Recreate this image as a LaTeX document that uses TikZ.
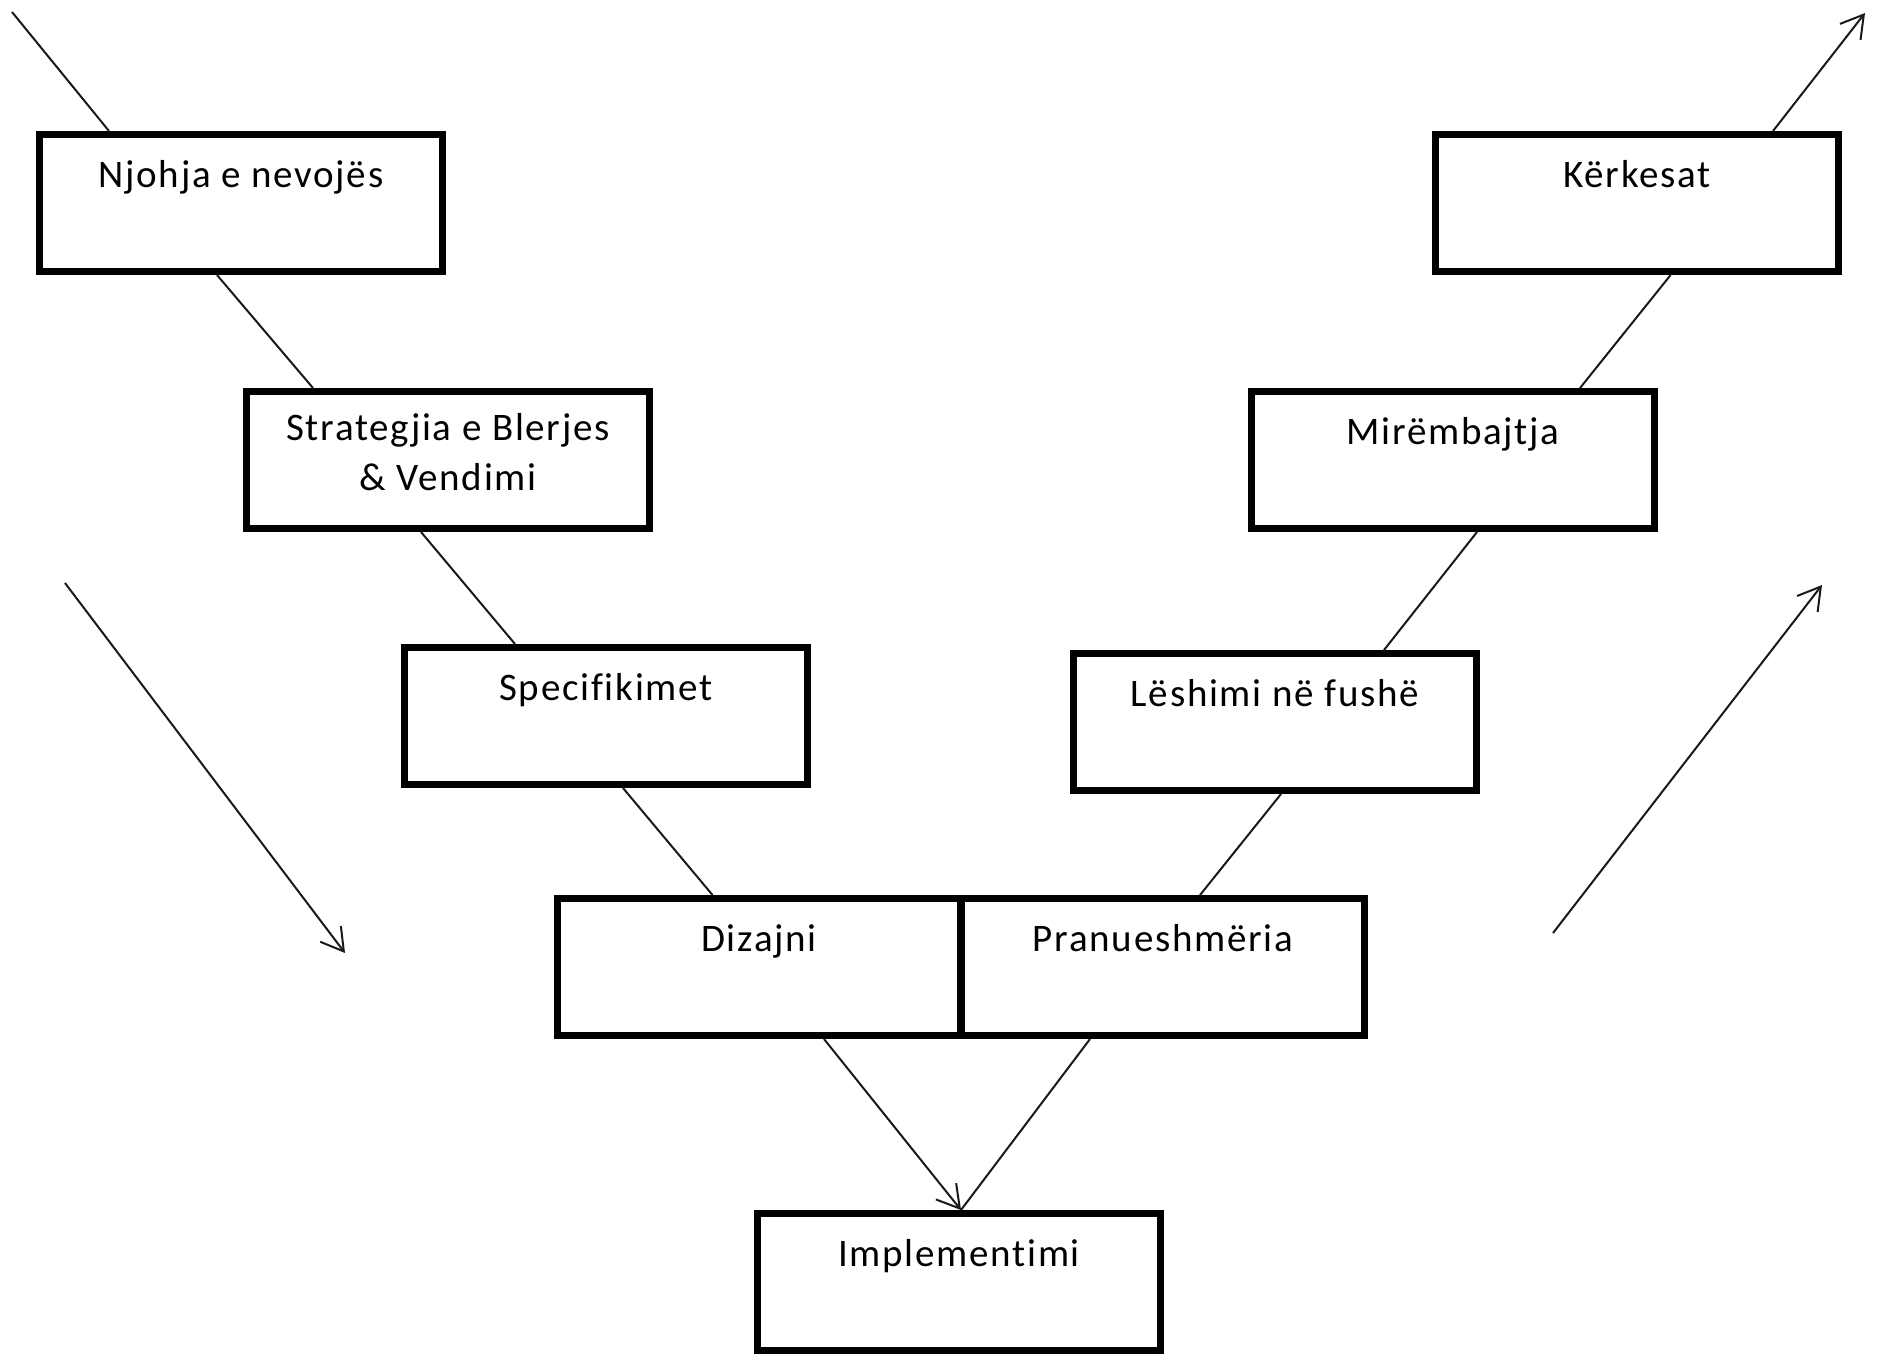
\documentclass[tikz,border=0pt]{standalone}
\usepackage{fontspec}
\setmainfont{Carlito}[LetterSpace=4.5, Ligatures=CommonOff]
\usetikzlibrary{arrows.meta}
\begin{document}
\begin{tikzpicture}[x=0.5pt,y=-0.5pt,
  box/.style={draw=black, line width=3.5pt, minimum width=201.5pt,
    minimum height=68.5pt, inner sep=0pt},
  lbl/.style={font=\fontsize{19.5}{25}\selectfont, inner sep=0pt, anchor=base},
  link/.style={draw=black!90, line width=1pt},
  flow/.style={link, -{Straight Barb[length=11pt,width=13pt]}},
]
\useasboundingbox (0,0) rectangle (1883,1361);

% stage boxes (descending branch, bottom, ascending branch)
\node[box] (njohja) at (241,203) {};
\node[box] (strat)  at (448,460) {};
\node[box] (spec)   at (606,716) {};
\node[box] (diz)    at (759,967) {};
\node[box] (pran)   at (1163,967) {};
\node[box] (impl)   at (959,1282) {};
\node[box] (lesh)   at (1275,722) {};
\node[box] (mire)   at (1453,460) {};
\node[box] (kerk)   at (1637,203) {};

% box texts
\node[lbl] (njohja-t) at ([yshift=-28.25pt]njohja.north) {Njohja e nevojës};
\node[lbl, align=center] (strat-t) at ([yshift=-51.25pt]strat.north) {Strategjia e Blerjes\\\& Vendimi};
\node[lbl] (spec-t) at ([yshift=-28.25pt]spec.north) {Specifikimet};
\node[lbl] (diz-t)  at ([yshift=-28.25pt]diz.north) {Dizajni};
\node[lbl] (pran-t) at ([yshift=-28.25pt]pran.north) {Pranueshmëria};
\node[lbl] (impl-t) at ([yshift=-28.25pt]impl.north) {Implementimi};
\node[lbl] (lesh-t) at ([yshift=-28.25pt]lesh.north) {Lëshimi në fushë};
\node[lbl] (mire-t) at ([yshift=-28.25pt]mire.north) {Mirëmbajtja};
\node[lbl] (kerk-t) at ([yshift=-28.25pt]kerk.north) {Kërkesat};

% free ends
\coordinate (in)    at (12,12);
\coordinate (out)   at (1865,13);
\coordinate (dnA)   at (65,583);
\coordinate (dnB)   at (345,953);
\coordinate (upA)   at (1553,933);
\coordinate (upB)   at (1822,585);

% descending branch
\draw[link] (in) -- ([xshift=-66pt]njohja.north);
\draw[link] ([xshift=-12pt]njohja.south) -- ([xshift=-67.5pt]strat.north);
\draw[link] ([xshift=-13.5pt]strat.south) -- ([xshift=-45.5pt]spec.north);
\draw[link] ([xshift=8.5pt]spec.south) -- ([xshift=-23.25pt]diz.north);

% into implementation
\draw[flow] ([xshift=32.5pt]diz.south) -- ([xshift=1pt]impl.north);
\draw[link] ([xshift=-36.5pt]pran.south) -- ([xshift=1pt]impl.north);

% ascending branch
\draw[link] ([xshift=18.5pt]pran.north) -- ([xshift=3pt]lesh.south);
\draw[link] ([xshift=54.5pt]lesh.north) -- ([xshift=12pt]mire.south);
\draw[link] ([xshift=63.5pt]mire.north) -- ([xshift=16.8pt]kerk.south);
\draw[flow] ([xshift=68pt]kerk.north) -- (out);

% direction arrows
\draw[flow] (dnA) -- (dnB);
\draw[flow] (upA) -- (upB);
\end{tikzpicture}
\end{document}
